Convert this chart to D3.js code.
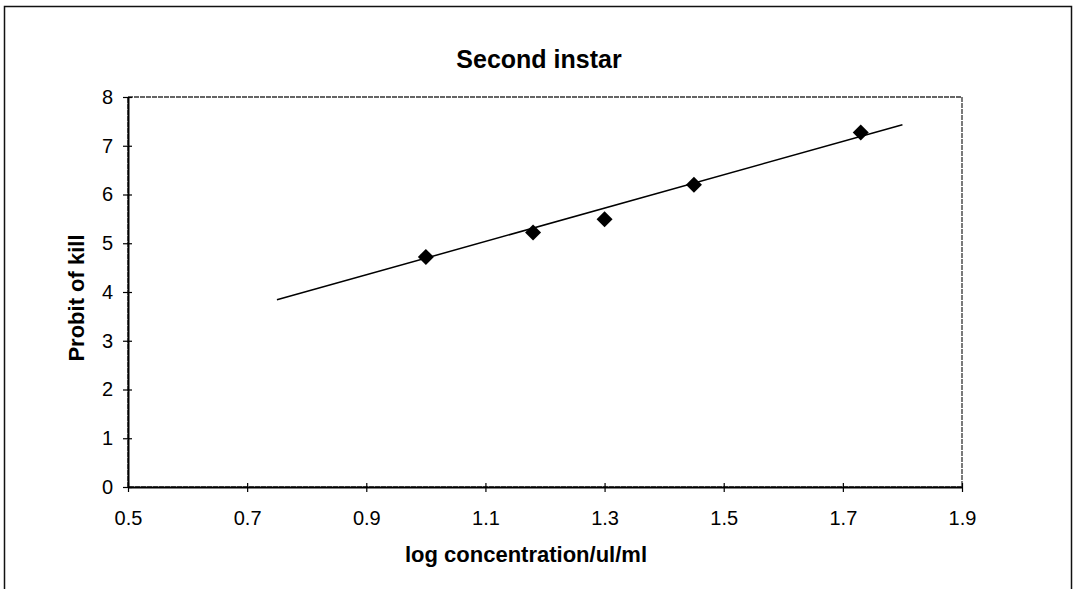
<!DOCTYPE html>
<html>
<head>
<meta charset="utf-8">
<script src="https://cdn.jsdelivr.net/npm/d3@7"></script>
<style>
  body { margin: 0; background: #fff; }
  svg { display: block; }
</style>
</head>
<body>
<svg id="chart"></svg>
<script>
// observed points
const logConc = [1.0, 1.18, 1.3, 1.45, 1.73];
const probit = [4.72, 5.22, 5.49, 6.2, 7.27];
// fitted line as drawn (ends)
const trendX = [0.75, 1.8];
const trendY = [3.84, 7.43];
const xTicks = [0.5, 0.7, 0.9, 1.1, 1.3, 1.5, 1.7, 1.9];
const yTicks = [0, 1, 2, 3, 4, 5, 6, 7, 8];

const W = 1079, H = 589;
const margin = { top: 97, right: 117, bottom: 102, left: 128 },
      width = W - margin.left - margin.right,
      height = H - margin.top - margin.bottom;

const font = "'Liberation Sans', Arial, sans-serif";

const svg = d3.select("#chart")
  .attr("width", W)
  .attr("height", H);

// outer chart frame
svg.append("rect")
  .attr("x", 4.5).attr("y", 6.5)
  .attr("width", 1067).attr("height", 600)
  .attr("fill", "none")
  .attr("stroke", "#111")
  .attr("stroke-width", 1.5);

const g = svg.append("g")
  .attr("transform", `translate(${margin.left},${margin.top})`);

const x = d3.scaleLinear().domain([0.5, 1.9]).range([0, width]);
const y = d3.scaleLinear().domain([0, 8]).range([height, 0]);

// plot area border (top/right are the faint ones)
g.append("rect")
  .attr("x", 0).attr("y", 0)
  .attr("width", width).attr("height", height)
  .attr("fill", "none")
  .attr("stroke", "#333")
  .attr("stroke-width", 1.3)
  .attr("stroke-dasharray", "5,1");

const xAxis = g.append("g")
  .attr("transform", `translate(0,${height})`)
  .call(d3.axisBottom(x).tickValues(xTicks).tickFormat(d3.format(".1f")).tickSizeInner(5).tickSizeOuter(0));
const yAxis = g.append("g")
  .call(d3.axisLeft(y).tickValues(yTicks).tickFormat(d3.format("d")).tickSizeInner(5).tickSizeOuter(0));

[xAxis, yAxis].forEach(a => {
  a.select(".domain").attr("stroke", "#000").attr("stroke-width", 2);
  a.selectAll(".tick line").attr("stroke", "#000").attr("stroke-width", 1.2);
  a.selectAll("text")
    .attr("fill", "#000")
    .style("font-family", font)
    .style("font-size", "20px");
});
// ticks cross the axis lines
xAxis.selectAll(".tick line").attr("y1", -4).attr("y2", 5);
yAxis.selectAll(".tick line").attr("x1", -5).attr("x2", 4);
xAxis.selectAll("text").attr("y", 24);
yAxis.selectAll("text").attr("x", -15);

// trend line
g.append("path")
  .datum(trendX.map((v, i) => [v, trendY[i]]))
  .attr("fill", "none")
  .attr("stroke", "#000")
  .attr("stroke-width", 1.5)
  .attr("d", d3.line().x(d => x(d[0])).y(d => y(d[1])));

// diamond markers
g.selectAll(".pt")
  .data(logConc.map((v, i) => ({ x: v, y: probit[i] })))
  .join("path")
  .attr("class", "pt")
  .attr("transform", d => `translate(${x(d.x)},${y(d.y)})`)
  .attr("d", "M0,-8L8,0L0,8L-8,0Z")
  .attr("fill", "#000");

// title and axis titles
svg.append("text")
  .attr("x", 539).attr("y", 68)
  .attr("text-anchor", "middle")
  .style("font-family", font)
  .style("font-weight", "bold")
  .style("font-size", "25px")
  .text("Second instar");

svg.append("text")
  .attr("x", 526).attr("y", 562)
  .attr("text-anchor", "middle")
  .style("font-family", font)
  .style("font-weight", "bold")
  .style("font-size", "22px")
  .text("log concentration/ul/ml");

svg.append("text")
  .attr("transform", `translate(84,${margin.top + height / 2 + 6}) rotate(-90)`)
  .attr("text-anchor", "middle")
  .style("font-family", font)
  .style("font-weight", "bold")
  .style("font-size", "22px")
  .text("Probit of kill");
</script>
</body>
</html>
